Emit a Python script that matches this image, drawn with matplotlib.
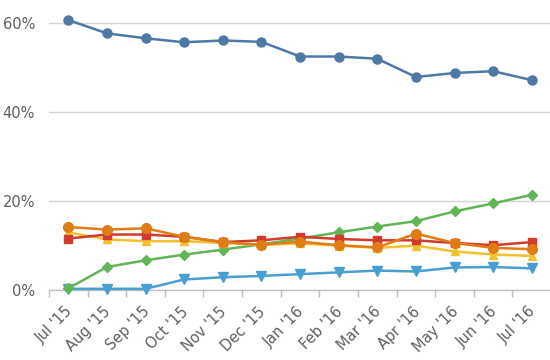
import matplotlib
matplotlib.use("Agg")
import matplotlib.pyplot as plt
import numpy as np

months = ["Jul '15", "Aug '15", "Sep '15", "Oct '15", "Nov '15", "Dec '15",
          "Jan '16", "Feb '16", "Mar '16", "Apr '16", "May '16", "Jun '16", "Jul '16"]

s_top = [60.7, 57.7, 56.6, 55.7, 56.1, 55.8, 52.5, 52.5, 52.0, 47.9, 48.8, 49.2, 47.2]
s_green = [0.4, 5.2, 6.7, 8.0, 9.1, 10.3, 11.6, 13.0, 14.3, 15.5, 17.7, 19.5, 21.4]
s_lblue = [0.3, 0.3, 0.3, 2.4, 2.9, 3.2, 3.6, 4.0, 4.4, 4.2, 5.1, 5.2, 4.9]
s_red = [11.6, 12.5, 12.5, 12.0, 10.8, 11.2, 12.0, 11.5, 11.2, 11.2, 10.6, 10.1, 10.8]
s_orange = [14.2, 13.6, 13.9, 12.0, 10.8, 10.2, 10.9, 10.1, 9.6, 12.7, 10.6, 9.5, 9.2]
s_yellow = [13.0, 11.4, 11.0, 11.0, 10.6, 10.2, 10.5, 10.0, 9.5, 10.0, 8.7, 8.0, 7.7]

y_ticks = [0, 20, 40, 60]
y_ticklabels = ["0%", "20%", "40%", "60%"]

fig = plt.figure(figsize=(5.5, 3.6), dpi=100)
ax = fig.add_axes([0.089, 0.194, 0.913, 0.806])
x = np.arange(len(months))

series = [
    (s_top, "#4e78a5", "o", 6.5),
    (s_lblue, "#4a9fd2", "v", 6.5),
    (s_green, "#62b556", "D", 5),
    (s_yellow, "#f2c12e", "^", 6),
    (s_red, "#d43a2c", "s", 6),
    (s_orange, "#e07c16", "o", 7),
]
for vals, col, mk, ms in series:
    ax.plot(x, vals, color=col, lw=1.8, marker=mk, ms=ms, mec=col, mfc=col, zorder=3,
            clip_on=False)

ax.set_xlim(-0.5, len(months) - 0.5)
ax.set_ylim(0, 65.2)
ax.set_yticks(y_ticks)
ax.set_yticklabels(y_ticklabels)
ax.yaxis.grid(True, color="#d6d6d6", lw=1)
ax.set_axisbelow(True)
ax.tick_params(axis="y", length=0, pad=10, labelsize=10.5, labelcolor="#606060")

ax.set_xticks(x - 0.1)
ax.set_xticklabels(months, rotation=45, ha="right", rotation_mode="anchor",
                   fontsize=10.5, color="#606060")
ax.tick_params(axis="x", which="major", length=0, pad=10)
ax.set_xticks(np.arange(-0.5, len(months)), minor=True)
ax.tick_params(axis="x", which="minor", length=5, color="#c0c0c0", width=1)

for sp in ["top", "right", "left"]:
    ax.spines[sp].set_visible(False)
ax.spines["bottom"].set_color("#c0c0c0")
ax.spines["bottom"].set_linewidth(1)

fig.savefig("out.png", dpi=100)
